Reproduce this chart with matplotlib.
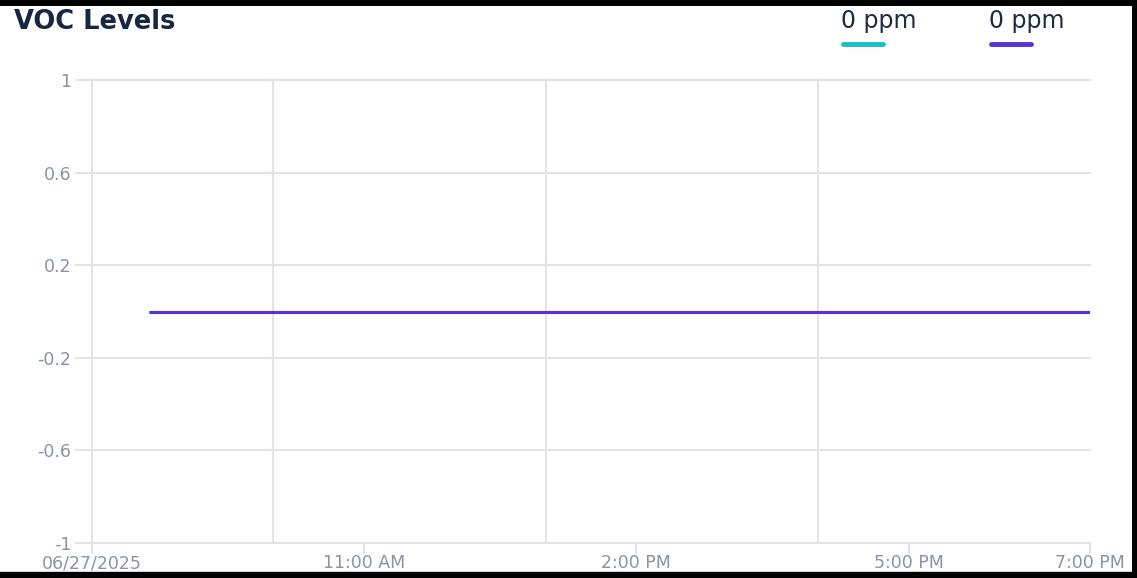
import pandas as pd
import matplotlib.pyplot as plt
from matplotlib.lines import Line2D

plt.rcParams['font.family'] = ['DejaVu Sans']

# data
times = pd.to_datetime(["2025-06-27 08:38", "2025-06-27 19:00"])
voc_a = [0, 0]
voc_b = [0, 0]
series_labels = ["0 ppm", "0 ppm"]
series_colors = ["#19bfc6", "#5a31d6"]
y_ticks = [-1, -0.6, -0.2, 0.2, 0.6, 1]
x_start = pd.Timestamp("2025-06-27 08:00")
x_end = pd.Timestamp("2025-06-27 19:00")
label_times = pd.to_datetime(["2025-06-27 08:00", "2025-06-27 11:00", "2025-06-27 14:00",
                              "2025-06-27 17:00", "2025-06-27 19:00"])
x_labels = ["06/27/2025", "11:00 AM", "2:00 PM", "5:00 PM", "7:00 PM"]
grid_times = pd.to_datetime(["2025-06-27 10:00", "2025-06-27 13:00", "2025-06-27 16:00",
                             "2025-06-27 19:00"])

grid_c = "#e2e2e8"
tick_c = "#8a93a5"

fig = plt.figure(figsize=(11.37, 5.78), dpi=100)
ax = fig.add_axes([92 / 1137, 35 / 578, 998 / 1137, 463 / 578])

ax.plot(times, voc_a, color=series_colors[0], lw=2.2, solid_capstyle='butt')
ax.plot(times, voc_b, color=series_colors[1], lw=2.2, solid_capstyle='butt')

ax.set_xlim(x_start, x_end)
ax.set_ylim(-1, 1)
ax.set_yticks(y_ticks)
ax.set_yticklabels([f"{v:g}" for v in y_ticks])
ax.set_xticks(label_times)
ax.set_xticklabels(x_labels)
ax.set_xticks(grid_times, minor=True)

for s in ax.spines.values():
    s.set_visible(False)
ax.grid(True, axis='y', color=grid_c, lw=1.5)
ax.grid(True, axis='x', which='minor', color=grid_c, lw=1.5)
for t in ax.yaxis.get_major_ticks() + ax.xaxis.get_minor_ticks():
    t.gridline.set_clip_on(False)
ax.axvline(x_start, color=grid_c, lw=1.5, clip_on=False, zorder=0)
ax.tick_params(axis='y', length=12, width=1.5, color=grid_c, labelcolor=tick_c,
               labelsize=12.5, pad=3)
ax.tick_params(axis='x', which='major', length=8, width=1.5, color=grid_c,
               labelcolor=tick_c, labelsize=12.5, pad=0)
ax.tick_params(axis='x', which='minor', length=0)
ax.set_axisbelow(True)

fig.text(14 / 1137, 1 - 22 / 578, "VOC Levels", fontsize=18.5, fontweight='bold',
         color="#17273f", va='center', ha='left')

# legend
leg_x = [841, 989]
for x0, lab, c in zip(leg_x, series_labels, series_colors):
    fig.text(x0 / 1137, 1 - 21 / 578, lab, fontsize=17, color="#1d2b40",
             va='center', ha='left')
    fig.add_artist(Line2D([(x0 + 2) / 1137, (x0 + 42) / 1137], [1 - 44 / 578] * 2,
                          color=c, lw=3.5, solid_capstyle='round',
                          transform=fig.transFigure))

# screenshot border
for xs, ys, w in [([0, 1], [1 - 2 / 578] * 2, 5),
                  ([1 - 2 / 1137] * 2, [0, 1], 5),
                  ([0, 1], [2 / 578] * 2, 6)]:
    fig.add_artist(Line2D(xs, ys, color='black', lw=w, transform=fig.transFigure))

fig.savefig("out.png", dpi=100)
